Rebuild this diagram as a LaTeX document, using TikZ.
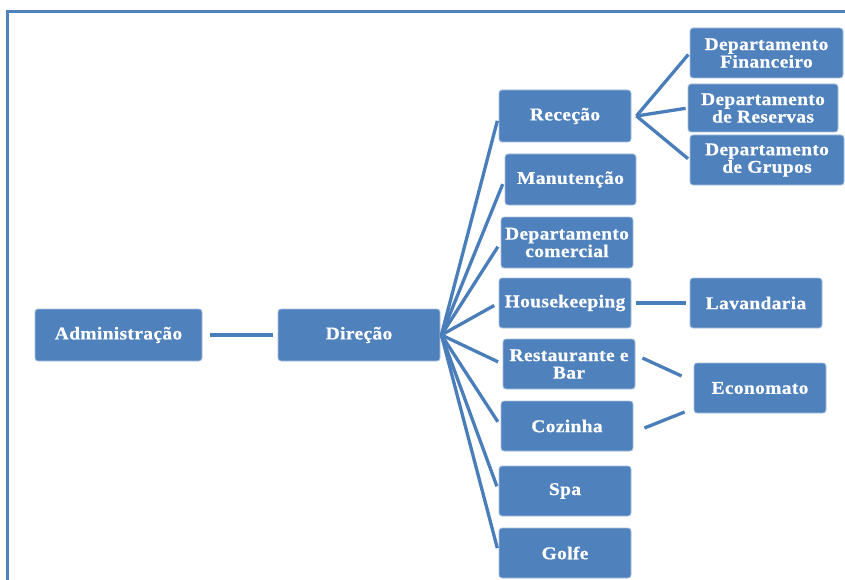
\documentclass[tikz,border=0pt]{standalone}
\usepackage{fontspec}
\setmainfont{Liberation Serif}[FakeStretch=1.08,LetterSpace=2,FakeBold=0.6]
\usetikzlibrary{calc}
\definecolor{boxblue}{HTML}{4F81BD}
\definecolor{edgeblue}{HTML}{A7BFDE}
\definecolor{lineblue}{HTML}{4A7EBB}
\tikzset{
  unit/.style={draw=edgeblue, line width=0.8pt, fill=boxblue, rounded corners=3pt,
    text=white, font=\bfseries\fontsize{18}{17.5}\selectfont, align=center, inner sep=1pt},
  conn/.style={draw=lineblue, line width=3.3pt},
}
\begin{document}
\begin{tikzpicture}[x=1pt,y=-1pt]
\useasboundingbox (0,0) rectangle (845,580);
\draw[boxblue, line width=3pt] (7,581) -- (7,12) -- (846,12);

\node[unit, minimum width=167pt, minimum height=52pt] (adm) at (118.5,335) {Administração};
\node[unit, minimum width=162pt, minimum height=52pt] (dir) at (359,335) {Direção};
\node[unit, minimum width=132pt, minimum height=52pt] (rec) at (565,116) {Receção};
\node[unit, minimum width=153pt, minimum height=50pt] (fin) at (766.5,53) {Departamento\\Financeiro};
\node[unit, minimum width=150pt, minimum height=48pt] (res) at (763,108) {Departamento\\de Reservas};
\node[unit, minimum width=154pt, minimum height=50pt] (gru) at (767,160) {Departamento\\de Grupos};
\node[unit, minimum width=131pt, minimum height=51pt] (man) at (570.5,179.5) {Manutenção};
\node[unit, minimum width=132pt, minimum height=51pt] (com) at (567,242.5) {Departamento\\comercial};
\node[unit, minimum width=132pt, minimum height=50pt] (hk) at (565,303) {Housekeeping};
\node[unit, minimum width=132pt, minimum height=50pt] (lav) at (756,303) {Lavandaria};
\node[unit, minimum width=132pt, minimum height=50pt] (rb) at (569,364) {Restaurante e\\Bar};
\node[unit, minimum width=132pt, minimum height=50pt] (eco) at (760,388) {Economato};
\node[unit, minimum width=132pt, minimum height=50pt] (coz) at (567,426) {Cozinha};
\node[unit, minimum width=132pt, minimum height=50pt] (spa) at (565,491) {Spa};
\node[unit, minimum width=132pt, minimum height=50pt] (gol) at (565,553) {Golfe};

\draw[conn] ([xshift=8pt]adm.east) -- ([xshift=-5pt]dir.west);
\foreach \c in {rec,man,com,hk,rb,coz,spa,gol}{
  \draw[conn, shorten >=5pt] ([xshift=1pt]dir.east) -- (\c.west);
}
\foreach \c in {fin,res,gru}{
  \draw[conn, shorten >=2pt] ([xshift=5pt]rec.east) -- (\c.west);
}
\draw[conn, shorten <=5pt, shorten >=4pt] (hk.east) -- (lav.west);
\draw[conn] ($(rb.east)+(7,-6)$) -- ($(eco.west)+(-12,-12)$);
\draw[conn] ($(coz.east)+(11,2)$) -- ($(eco.west)+(-9,24)$);
\end{tikzpicture}
\end{document}
